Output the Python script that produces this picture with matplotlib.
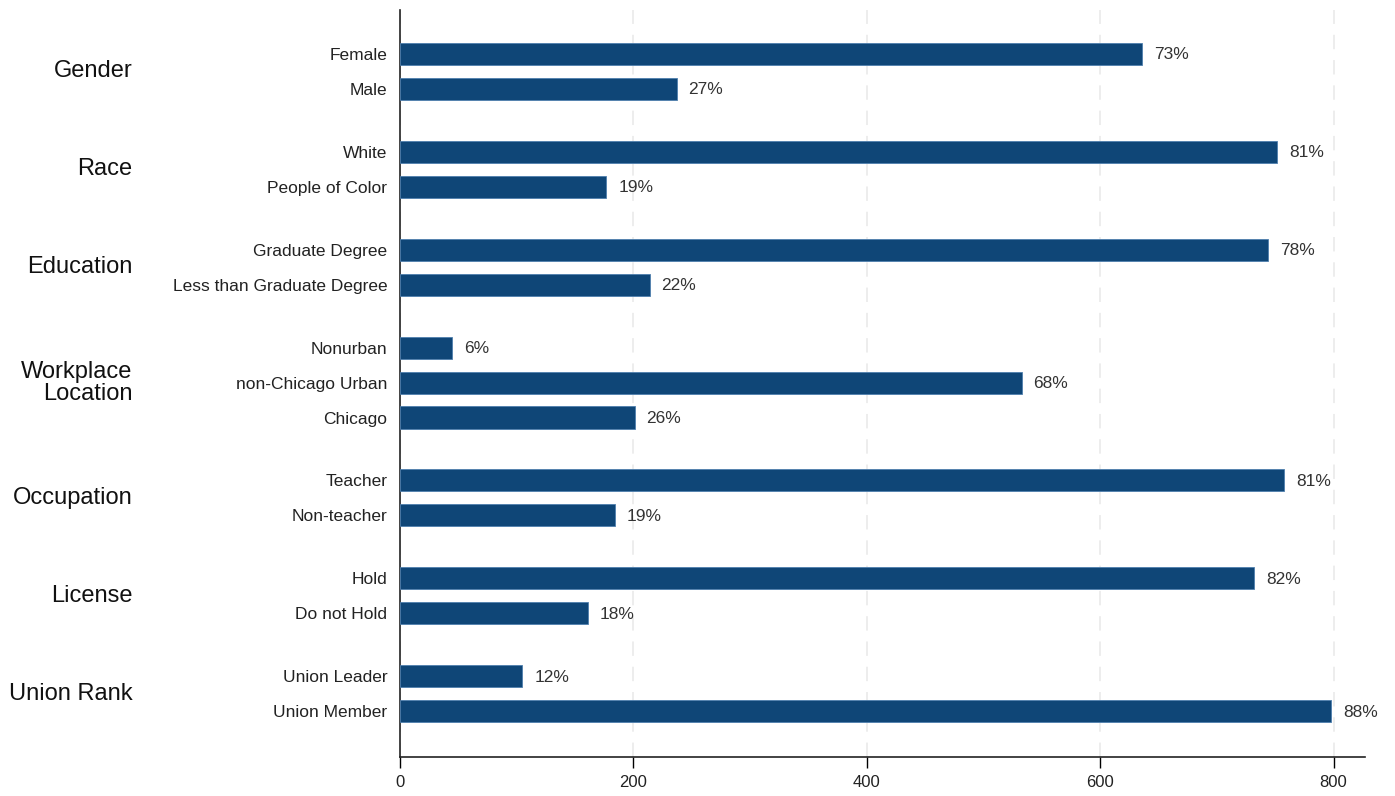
import matplotlib.pyplot as plt
from matplotlib import font_manager

groups = ['Gender', 'Race', 'Education', 'Workplace\nLocation', 'Occupation', 'License', 'Union Rank']
categories = [
    ['Female', 'Male'],
    ['White', 'People of Color'],
    ['Graduate Degree', 'Less than Graduate Degree'],
    ['Nonurban', 'non-Chicago Urban', 'Chicago'],
    ['Teacher', 'Non-teacher'],
    ['Hold', 'Do not Hold'],
    ['Union Leader', 'Union Member'],
]
counts = [
    [636, 237],
    [752, 177],
    [744, 214],
    [45, 533, 201],
    [758, 184],
    [732, 161],
    [105, 798],
]
percents = [
    ['73%', '27%'],
    ['81%', '19%'],
    ['78%', '22%'],
    ['6%', '68%', '26%'],
    ['81%', '19%'],
    ['82%', '18%'],
    ['12%', '88%'],
]

names = [f.name for f in font_manager.fontManager.ttflist]
main_font = 'Liberation Sans' if 'Liberation Sans' in names else 'DejaVu Sans'
narrow_font = 'Liberation Sans Narrow' if 'Liberation Sans Narrow' in names else main_font
plt.rcParams['font.family'] = [main_font, 'DejaVu Sans']

fig = plt.figure(figsize=(13.95, 7.96), dpi=100)
ax = fig.add_axes([0.2867, 0.049, 0.6918, 0.9385])

bar_color = '#0f4677'
gap = 0.8
pos = 0.0
ytick_pos, ytick_lab = [], []
for gi, g in enumerate(groups):
    if gi > 0:
        pos += gap
    start = pos
    for cat, val, pct in zip(categories[gi], counts[gi], percents[gi]):
        ax.barh(pos, val, height=0.63, color=bar_color, edgecolor='#4f7fae',
                linewidth=0.6, zorder=3)
        ax.text(val + 10, pos + 0.03, pct, va='center', ha='left', fontsize=12.5,
                color='#333333', zorder=4)
        ytick_pos.append(pos)
        ytick_lab.append(cat)
        pos += 1
    center = (start + pos - 1) / 2
    ax.text(-0.277, center, g, transform=ax.get_yaxis_transform(),
            ha='right', va='center', fontsize=17, color='#111111',
            linespacing=1.0)

ax.set_yticks(ytick_pos)
ax.set_yticklabels(ytick_lab, fontsize=12.5, color='#222222')
ax.tick_params(axis='y', length=0, pad=9)
ax.set_ylim(pos - 1 + 1.31, -1.257)

ax.set_xlim(0, 827)
ax.set_xticks([0, 200, 400, 600, 800])
ax.set_xticklabels(['0', '200', '400', '600', '800'], fontsize=12,
                   family=narrow_font, color='#222222')
ax.tick_params(axis='x', length=8, width=1, pad=5, direction='out')
ax.grid(axis='x', linestyle=(0, (8, 6)), color='#ececec', linewidth=1.3, zorder=0)
ax.set_axisbelow(True)

for s in ['top', 'right']:
    ax.spines[s].set_visible(False)
ax.spines['left'].set_linewidth(1.2)
ax.spines['bottom'].set_linewidth(1.2)
ax.spines['left'].set_color('#222222')
ax.spines['bottom'].set_color('#222222')

fig.savefig('out.png', dpi=100, facecolor='white')
